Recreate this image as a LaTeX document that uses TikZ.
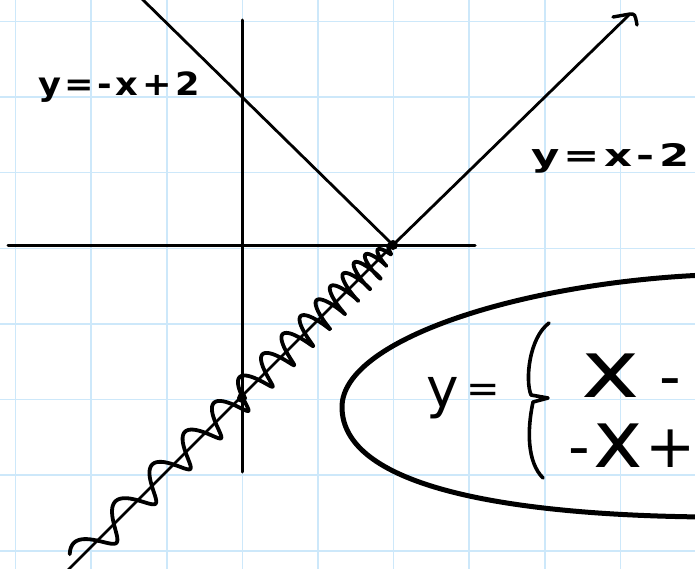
\documentclass[tikz,border=0pt]{standalone}
\usepackage{fontspec}
\setmainfont{DejaVu Sans}
\newfontfamily\hand[LetterSpace=10]{DejaVu Sans}
\usetikzlibrary{arrows.meta}
\definecolor{gridblue}{RGB}{205,232,250}
\newcommand{\fsz}[1]{\fontsize{#1}{#1}\selectfont}
\begin{document}
\begin{tikzpicture}[x=1pt,y=-1pt,
  gridline/.style={gridblue, line width=1.6pt},
  axisline/.style={black, line width=3pt, line cap=round},
  graphline/.style={black, line width=2.8pt, line cap=round, line join=round},
  waveline/.style={black, line width=3.8pt, line join=round, line cap=round},
  bubble/.style={black, line width=5pt, line cap=round},
  bracestroke/.style={black, line width=3.6pt, line cap=round, line join=round},
  labeltext/.style={inner sep=0pt, anchor=base west, font=\hand\bfseries},
  formulatext/.style={inner sep=0pt, anchor=base west, font=\hand},
  declare function={
    tp(\s)=min(1,(\s+4)/35);
    ph(\s)=3000*ln(1+0.012*\s);
    wa(\s)=-3*tp(\s)*cos(ph(\s));
    wp(\s)=15*tp(\s)*sin(ph(\s));
  }
]
\useasboundingbox (0,0) rectangle (695,569);
\clip (0,0) rectangle (695,569);
\fill[white] (0,0) rectangle (695,569);
% grid
\foreach \gx in {15.5,91.1,166.7,242.3,317.9,393.5,469.1,544.7,620.3}
  \draw[gridline] (\gx,0) -- (\gx,569);
\foreach \gy in {21.5,97.1,172.7,248.3,323.9,399.5,475.1,550.7}
  \draw[gridline] (0,\gy) -- (695,\gy);
% coordinates
\coordinate (xL) at (8,245);
\coordinate (xR) at (475,245);
\coordinate (yT) at (242,20);
\coordinate (yB) at (242,472);
\coordinate (V) at (393,245);
\coordinate (Yb) at (242,398);
\coordinate (Ltop) at (138,-5);
\coordinate (Tip) at (630,14);
\coordinate (Lbot) at (66,572);
% axes
\draw[axisline] (xL) -- (xR);
\draw[axisline] (yT) -- (yB);
% graph lines
\draw[graphline] (Ltop) -- (V);
\draw[graphline] (V) -- (Tip);
\draw[graphline, line width=3.4pt] ([shift={(-17,3)}]Tip) -- (Tip) .. controls ([shift={(5,0)}]Tip) .. ([shift={(7,11)}]Tip);
\draw[graphline] (V) -- (Lbot);
% wave
\draw[waveline] plot[domain=0:445, samples=1600, variable=\s]
  ({393 - 0.7071*\s - 0.7071*wa(\s) - 0.7071*wp(\s)},
   {245 + 0.7071*\s + 0.7071*wa(\s) - 0.7071*wp(\s)});
\fill (V) circle[radius=5pt];
\fill (Yb) circle[radius=5pt];
% bubble
\draw[bubble] (705,275) .. controls (520,283) and (342,340) .. (342,407)
  .. controls (342,485) and (500,515) .. (705,517);
% brace
\draw[bracestroke] (549,323) .. controls (529,338) and (525,380) .. (531,395)
  -- (548,398) -- (533,402) .. controls (527,430) and (527,462) .. (543,478);
% labels
\node[labeltext] (lab1) at (38,96) {\fsz{32}\scalebox{1.1}[1]{y=-x+2}};
\node[labeltext] (lab2) at (531,167) {\fsz{31}\scalebox{1.4}[1]{y=x-2}};
% formula
\node[formulatext] (fy) at (426,407) {\fsz{55}y\kern8pt\raisebox{5pt}{\fsz{40}=}};
\node[formulatext, text depth=0pt] (f1) at (581,397) {\fsz{76}\scalebox{1.3}[1.05]{x}\kern20pt{\fsz{60}-}};
\node[formulatext, text height=42pt] (f2) at (568,467) {{\fsz{60}-}\kern4pt{\fsz{76}\scalebox{1.1}[1.05]{x}}\kern2pt{\fsz{60}+}};
\end{tikzpicture}
\end{document}
